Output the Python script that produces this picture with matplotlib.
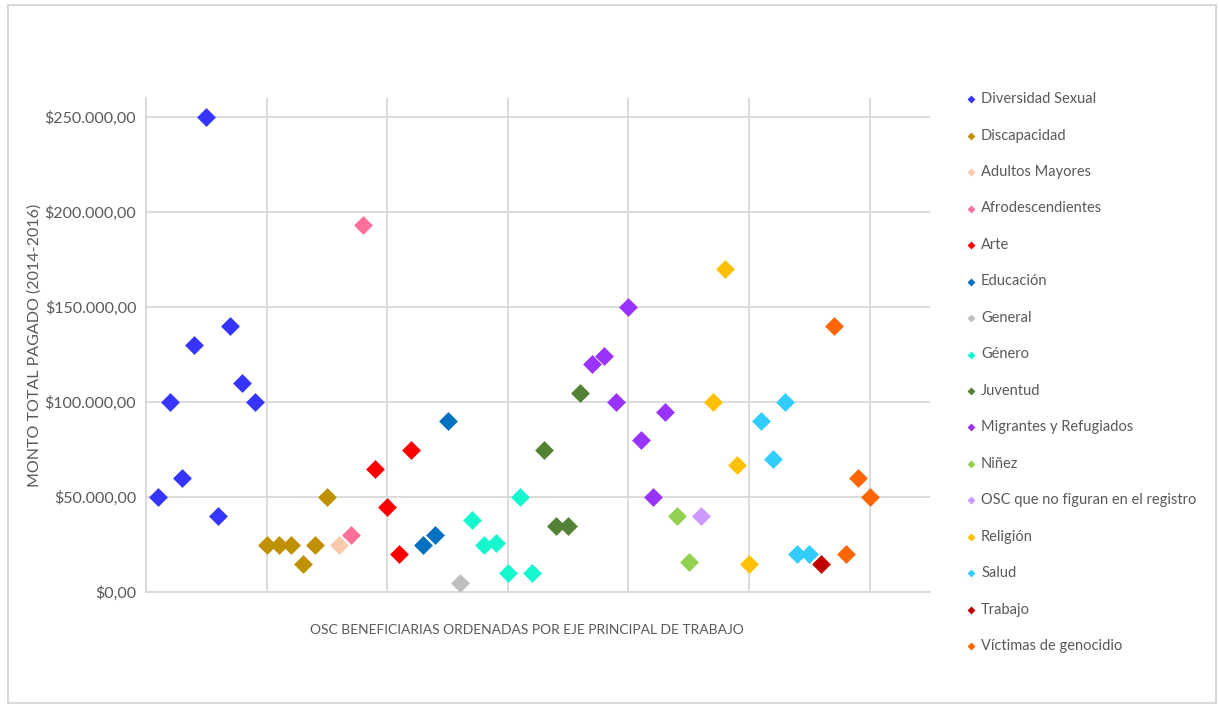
import matplotlib.pyplot as plt
from matplotlib.ticker import FuncFormatter, MultipleLocator
from matplotlib.patches import Rectangle
import numpy as np

plt.rcParams['font.family'] = ['Lato', 'DejaVu Sans']

categorias = [
    'Diversidad Sexual', 'Discapacidad', 'Adultos Mayores', 'Afrodescendientes',
    'Arte', 'Educación', 'General', 'Género', 'Juventud',
    'Migrantes y Refugiados', 'Niñez', 'OSC que no figuran en el registro',
    'Religión', 'Salud', 'Trabajo', 'Víctimas de genocidio',
]

# montos pagados por OSC, agrupados por eje principal de trabajo
diversidad_sexual = [50000, 100000, 60000, 130000, 250000, 40000, 140000, 110000, 100000]
discapacidad = [25000, 25000, 25000, 15000, 25000, 50000]
adultos_mayores = [25000]
afrodescendientes = [30000, 193000]
arte = [65000, 45000, 20000, 75000]
educacion = [25000, 30000, 90000]
general = [5000]
genero = [38000, 25000, 26000, 10000, 50000, 10000]
juventud = [75000, 35000, 35000, 105000]
migrantes = [120000, 124000, 100000, 150000, 80000, 50000, 95000]
ninez = [40000, 16000]
osc_sin_registro = [40000]
religion = [100000, 170000, 67000, 15000]
salud = [90000, 70000, 100000, 20000, 20000]
trabajo = [15000]
victimas = [140000, 20000, 60000, 50000]

montos = [diversidad_sexual, discapacidad, adultos_mayores, afrodescendientes,
          arte, educacion, general, genero, juventud, migrantes, ninez,
          osc_sin_registro, religion, salud, trabajo, victimas]

colores = ['#3535FF', '#BF9000', '#F8CBAD', '#FF6F9C', '#FF0000', '#0070C0',
           '#BFBFBF', '#14F7CF', '#548235', '#9933FF', '#92D050', '#CC99FF',
           '#FFC000', '#33CCFF', '#C00000', '#FF6600']

fig = plt.figure(figsize=(12.19, 7.04), dpi=100)
ax = fig.add_axes([146 / 1219, 1 - 592 / 704, 784 / 1219, 494 / 704])

gris_texto = '#595959'
gris_linea = '#D9D9D9'

inicio = 1
for nombre, valores, color in zip(categorias, montos, colores):
    x = np.arange(inicio, inicio + len(valores))
    ax.scatter(x, valores, marker='D', s=92, color=color, label=nombre,
               linewidths=0, zorder=3)
    inicio += len(valores)

ax.set_xlim(0, 65)
ax.set_ylim(0, 260000)
ax.xaxis.set_major_locator(MultipleLocator(10))
ax.yaxis.set_major_locator(MultipleLocator(50000))
ax.set_xticklabels([])
ax.yaxis.set_major_formatter(FuncFormatter(
    lambda v, _: '$' + f'{v:,.2f}'.replace(',', 'X').replace('.', ',').replace('X', '.')))
ax.tick_params(axis='both', length=0, labelsize=11.5, colors=gris_texto, pad=7)
ax.grid(True, color=gris_linea, linewidth=1.3)
ax.set_axisbelow(True)
for lado in ['top', 'right']:
    ax.spines[lado].set_visible(False)
for lado in ['left', 'bottom']:
    ax.spines[lado].set_color(gris_linea)
    ax.spines[lado].set_linewidth(1.3)

ax.set_ylabel('MONTO TOTAL PAGADO (2014-2016)', fontsize=11.5, color=gris_texto)
ax.yaxis.set_label_coords(-104 / 784, 0.5)
ax.set_xlabel('OSC BENEFICIARIAS ORDENADAS POR EJE PRINCIPAL DE TRABAJO',
              fontsize=10, color=gris_texto)
ax.xaxis.set_label_coords(381 / 784, -32 / 494)

leg = fig.legend(loc='upper left', bbox_to_anchor=(949 / 1219, 1 - 79 / 704),
                 frameon=False, fontsize=10.5, markerscale=0.42,
                 labelspacing=1.54, handletextpad=0.1, handlelength=1.2)
for texto in leg.get_texts():
    texto.set_color(gris_texto)

# marco exterior
fig.patches.append(Rectangle((8 / 1219, 1 / 704), 1208 / 1219, 698 / 704,
                             transform=fig.transFigure, fill=False,
                             edgecolor=gris_linea, linewidth=1.5))

fig.savefig('out.png', dpi=100)
